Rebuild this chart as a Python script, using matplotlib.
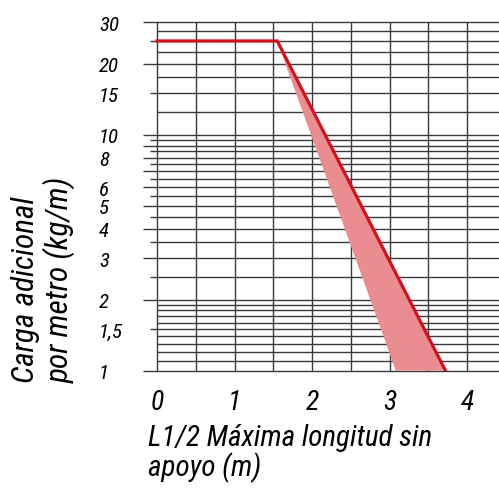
import numpy as np
import matplotlib
matplotlib.use("Agg")
import matplotlib.pyplot as plt

# Data
x_line = [0, 1.55, 3.72]
y_line = [25, 25, 1]
x_band = [1.55, 3.72, 3.08]
y_band = [25, 1, 1]

x_ticks = [0, 1, 2, 3, 4]
y_ticks = [1, 1.5, 2, 3, 4, 5, 6, 8, 10, 15, 20, 30]
y_tick_labels = ["1", "1,5", "2", "3", "4", "5", "6", "8", "10", "15", "20", "30"]

# grid levels, three lengths
grid_long = [1, 2, 3, 4, 5, 6, 7, 8, 9, 10, 20, 30]
grid_mid = [1.5, 2.5, 3.5, 4.5, 5.5, 6.5, 7.5, 8.5, 9.5, 15, 25]
grid_short = [1.1, 1.2, 1.3, 1.4, 1.6, 1.7, 1.8, 1.9, 12.5, 17.5, 22.5, 27.5]
grid_x = [0, 0.5, 1, 1.5, 2, 2.5, 3, 3.5, 4, 4.5]

plt.rcParams['font.family'] = ['Roboto Condensed', 'DejaVu Sans']
plt.rcParams['font.style'] = 'italic'

fig = plt.figure(figsize=(4.99, 4.89), dpi=100)
ax = fig.add_axes([0.2836, 0.2399, 0.7164, 0.7125])
ax.set_yscale('log')
ax.set_xlim(-0.2, 4.41)
ax.set_ylim(1, 30)

gc = '#3a3a3a'
ax.hlines(grid_long, -0.18, 4.6, color=gc, lw=1.0, clip_on=False, zorder=1)
ax.hlines(grid_mid, -0.09, 4.6, color=gc, lw=1.0, clip_on=False, zorder=1)
ax.hlines(grid_short, 0, 4.6, color=gc, lw=1.0, clip_on=False, zorder=1)
ax.vlines(grid_x, 1, 30, color=gc, lw=1.0, clip_on=False, zorder=1)

ax.fill(x_band, y_band, color='#ea8d91', lw=0, zorder=2)
ax.plot(x_line, y_line, color='#d1121c', lw=2.3, solid_joinstyle='miter', zorder=3)

for s in ax.spines.values():
    s.set_visible(False)

ax.set_yticks(y_ticks, y_tick_labels)
ax.yaxis.set_minor_locator(matplotlib.ticker.NullLocator())
ax.set_xticks(x_ticks, [str(v) for v in x_ticks])
ax.tick_params(axis='y', length=0, pad=30.6, labelsize=15)
ax.tick_params(axis='x', length=0, pad=13, labelsize=20)
for lbl in ax.get_yticklabels():
    lbl.set_ha('left')

ax.set_xlabel("L1/2 Máxima longitud sin\napoyo (m)", fontsize=21,
              ha='left', va='top', multialignment='left', linespacing=1.0)
ax.xaxis.set_label_coords(0.018, -0.15)

ax.set_ylabel("Carga adicional\npor metro (kg/m)", fontsize=22.5, rotation=90,
              rotation_mode='default', ha='left', va='bottom',
              multialignment='left', linespacing=1.12)
ax.yaxis.set_label_coords(-0.365, -0.032)

plt.savefig('out.png', dpi=100)
